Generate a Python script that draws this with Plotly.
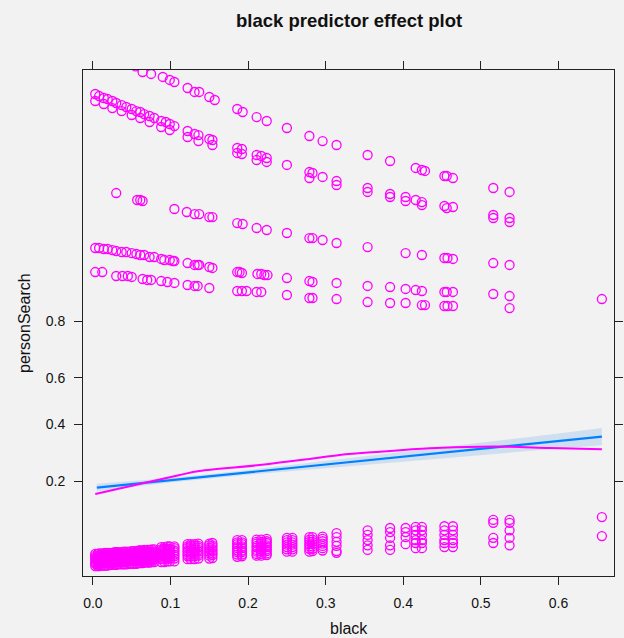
import numpy as np
import plotly.graph_objects as go

# ---------------- data (linear-predictor / logit scale) ----------------
title_text = "black predictor effect plot"
x_label = "black"
y_label = "personSearch"
x_ticks = [0.0, 0.1, 0.2, 0.3, 0.4, 0.5, 0.6]
y_tick_probs = [0.2, 0.4, 0.6, 0.8]

# fitted effect and confidence band
fit_x = [0.005, 0.1, 0.2, 0.3, 0.4, 0.5, 0.6, 0.656]
fit_y = [-1.500, -1.371, -1.236, -1.100, -0.965, -0.829, -0.694, -0.618]
fit_lo = [-1.565, -1.410, -1.276, -1.160, -1.045, -0.934, -0.824, -0.768]
fit_hi = [-1.435, -1.332, -1.196, -1.040, -0.885, -0.724, -0.564, -0.468]

# loess smooth of partial residuals
smooth_x = [0.003, 0.073, 0.112, 0.137, 0.215, 0.279, 0.318, 0.370, 0.434, 0.499, 0.537, 0.589, 0.656]
smooth_y = [-1.611, -1.398, -1.282, -1.212, -1.108, -1.004, -0.935, -0.878, -0.819, -0.791, -0.791, -0.814, -0.836]

# partial residuals, upper bands (searched)
bandA_x = [0.045, 0.055, 0.064, 0.075, 0.090, 0.099, 0.105, 0.122, 0.131, 0.137, 0.150, 0.157, 0.186, 0.193,
           0.211, 0.224, 0.250, 0.279, 0.296, 0.314, 0.354, 0.383, 0.416, 0.424, 0.428, 0.453, 0.456, 0.464,
           0.516, 0.537]
bandA_y = [5.88, 5.80, 5.702, 5.668, 5.616, 5.564, 5.529, 5.425, 5.356, 5.356, 5.269, 5.217, 5.061, 5.009,
           4.922, 4.853, 4.732, 4.593, 4.506, 4.437, 4.264, 4.160, 4.039, 4.004, 3.987, 3.900, 3.900, 3.865,
           3.692, 3.623]

bandB1_x = [0.003, 0.008, 0.014, 0.019, 0.025, 0.030, 0.037, 0.043, 0.050, 0.056, 0.061, 0.066, 0.073, 0.079,
            0.088, 0.094, 0.099, 0.105, 0.122, 0.131, 0.136, 0.150, 0.154, 0.186, 0.192, 0.211, 0.217, 0.224,
            0.250, 0.279, 0.283, 0.296, 0.314, 0.354, 0.383, 0.403, 0.416, 0.424, 0.453, 0.464, 0.516, 0.537]
bandB1_y = [5.321, 5.286, 5.252, 5.234, 5.200, 5.165, 5.130, 5.096, 5.061, 5.026, 5.009, 4.974, 4.940, 4.905,
            4.853, 4.836, 4.801, 4.766, 4.680, 4.628, 4.610, 4.541, 4.524, 4.385, 4.368, 4.264, 4.247, 4.212,
            4.091, 3.969, 3.952, 3.883, 3.813, 3.692, 3.588, 3.536, 3.484, 3.449, 3.380, 3.363, 3.224, 3.172]

bandB2_x = [0.003, 0.014, 0.025, 0.037, 0.050, 0.061, 0.073, 0.088, 0.099, 0.122, 0.136, 0.154, 0.186, 0.192,
            0.211, 0.224, 0.279, 0.314, 0.354, 0.383, 0.403, 0.424, 0.456, 0.516, 0.537]
bandB2_y = [5.200, 5.148, 5.078, 5.026, 4.957, 4.905, 4.836, 4.749, 4.697, 4.576, 4.506, 4.437, 4.299, 4.281,
            4.177, 4.143, 3.865, 3.744, 3.623, 3.536, 3.467, 3.397, 3.345, 3.172, 3.103]

bandC_x = [0.030, 0.057, 0.061, 0.064, 0.105, 0.121, 0.131, 0.137, 0.150, 0.154, 0.186, 0.193, 0.211, 0.224,
           0.250, 0.279, 0.283, 0.296, 0.314, 0.354, 0.403, 0.424, 0.453, 0.457, 0.464, 0.516, 0.537]
bandC_y = [3.605, 3.484, 3.484, 3.467, 3.328, 3.276, 3.241, 3.241, 3.189, 3.189, 3.085, 3.068, 2.999, 2.964,
           2.912, 2.825, 2.825, 2.791, 2.739, 2.669, 2.565, 2.531, 2.479, 2.479, 2.462, 2.392, 2.358]

bandD_x = [0.003, 0.008, 0.014, 0.019, 0.025, 0.030, 0.037, 0.043, 0.050, 0.056, 0.061, 0.066, 0.073, 0.079,
           0.088, 0.092, 0.099, 0.103, 0.105, 0.122, 0.131, 0.135, 0.137, 0.150, 0.154, 0.186, 0.189, 0.192,
           0.212, 0.217, 0.221, 0.225, 0.250, 0.279, 0.283, 0.314, 0.354, 0.383, 0.403, 0.416, 0.424, 0.453,
           0.456, 0.464, 0.516, 0.537]
bandD_y = [2.652, 2.652, 2.635, 2.635, 2.617, 2.600, 2.583, 2.583, 2.565, 2.548, 2.531, 2.531, 2.496, 2.496,
           2.462, 2.444, 2.444, 2.427, 2.427, 2.392, 2.358, 2.358, 2.358, 2.323, 2.306, 2.236, 2.236, 2.219,
           2.202, 2.202, 2.184, 2.184, 2.132, 2.080, 2.063, 2.046, 1.994, 1.976, 1.942, 1.924, 1.907, 1.890,
           1.890, 1.890, 1.855, 1.820]

bandE_x = [0.003, 0.012, 0.030, 0.038, 0.045, 0.050, 0.064, 0.070, 0.075, 0.088, 0.096, 0.105, 0.122, 0.131,
           0.135, 0.150, 0.186, 0.192, 0.198, 0.211, 0.217, 0.250, 0.279, 0.283, 0.314, 0.354, 0.383, 0.403,
           0.424, 0.428, 0.453, 0.457, 0.464, 0.537, 0.656]
bandE_y = [2.236, 2.236, 2.167, 2.167, 2.167, 2.150, 2.115, 2.098, 2.098, 2.080, 2.063, 2.046, 2.011, 1.994,
           1.994, 1.959, 1.907, 1.907, 1.907, 1.890, 1.890, 1.838, 1.786, 1.786, 1.768, 1.716, 1.699, 1.699,
           1.664, 1.664, 1.647, 1.647, 1.647, 1.612, 1.768]

# partial residuals, lower cluster (not searched), by neighbourhood
bottom_cols = [0.003, 0.006, 0.008, 0.011, 0.014, 0.016, 0.019, 0.022, 0.025, 0.028, 0.030, 0.033, 0.037,
               0.040, 0.043, 0.047, 0.050, 0.053, 0.056, 0.059, 0.061, 0.064, 0.066, 0.070, 0.073, 0.076,
               0.079, 0.088, 0.092, 0.096, 0.099, 0.105, 0.122, 0.126, 0.131, 0.136, 0.150, 0.154, 0.186,
               0.192, 0.211, 0.217, 0.224, 0.250, 0.257, 0.279, 0.283, 0.296, 0.314, 0.354, 0.383, 0.403,
               0.416, 0.424, 0.453, 0.464, 0.516, 0.537, 0.656]
bottom_vals = [
    [-2.65, -2.68, -2.72, -2.75, -2.79, -2.82, -2.86], [-2.65, -2.69, -2.72, -2.76, -2.79, -2.83, -2.86],
    [-2.64, -2.68, -2.71, -2.75, -2.78, -2.82, -2.86], [-2.64, -2.67, -2.71, -2.74, -2.78, -2.81, -2.85],
    [-2.64, -2.67, -2.70, -2.74, -2.78, -2.81, -2.85], [-2.63, -2.67, -2.70, -2.74, -2.77, -2.81, -2.85],
    [-2.63, -2.66, -2.70, -2.73, -2.77, -2.81, -2.85], [-2.63, -2.66, -2.70, -2.73, -2.77, -2.80, -2.84],
    [-2.63, -2.66, -2.69, -2.73, -2.77, -2.80, -2.84], [-2.62, -2.66, -2.69, -2.73, -2.76, -2.80, -2.84],
    [-2.62, -2.65, -2.69, -2.72, -2.76, -2.80, -2.84], [-2.62, -2.65, -2.69, -2.72, -2.76, -2.79, -2.83],
    [-2.62, -2.65, -2.69, -2.72, -2.76, -2.79, -2.83], [-2.61, -2.65, -2.68, -2.72, -2.75, -2.79, -2.83],
    [-2.61, -2.64, -2.68, -2.71, -2.75, -2.79, -2.83], [-2.61, -2.64, -2.68, -2.71, -2.75, -2.78, -2.82],
    [-2.60, -2.64, -2.67, -2.71, -2.75, -2.78, -2.82], [-2.60, -2.63, -2.67, -2.70, -2.74, -2.78, -2.82],
    [-2.60, -2.63, -2.67, -2.70, -2.74, -2.78, -2.82], [-2.59, -2.63, -2.66, -2.70, -2.74, -2.77, -2.81],
    [-2.59, -2.62, -2.66, -2.70, -2.73, -2.77, -2.81], [-2.59, -2.62, -2.66, -2.69, -2.73, -2.77, -2.81],
    [-2.58, -2.62, -2.65, -2.69, -2.72, -2.76, -2.80], [-2.58, -2.61, -2.65, -2.69, -2.72, -2.76, -2.80],
    [-2.58, -2.61, -2.65, -2.68, -2.72, -2.76, -2.80], [-2.57, -2.61, -2.64, -2.68, -2.72, -2.75, -2.79],
    [-2.57, -2.61, -2.64, -2.68, -2.71, -2.75, -2.79],
    [-2.53, -2.57, -2.60, -2.64, -2.67, -2.71, -2.74, -2.79], [-2.53, -2.56, -2.60, -2.63, -2.67, -2.70, -2.74, -2.79],
    [-2.52, -2.56, -2.59, -2.63, -2.66, -2.70, -2.73, -2.78], [-2.52, -2.56, -2.59, -2.63, -2.66, -2.70, -2.73, -2.78],
    [-2.52, -2.55, -2.59, -2.62, -2.66, -2.69, -2.73, -2.78],
    [-2.48, -2.52, -2.55, -2.59, -2.62, -2.66, -2.69, -2.74], [-2.48, -2.51, -2.55, -2.58, -2.62, -2.65, -2.69, -2.74],
    [-2.48, -2.51, -2.55, -2.58, -2.62, -2.65, -2.69, -2.74], [-2.47, -2.51, -2.54, -2.58, -2.61, -2.65, -2.68, -2.73],
    [-2.47, -2.50, -2.54, -2.57, -2.61, -2.64, -2.68, -2.73], [-2.46, -2.50, -2.53, -2.57, -2.60, -2.64, -2.67, -2.72],
    [-2.41, -2.45, -2.48, -2.52, -2.55, -2.59, -2.62, -2.66, -2.70], [-2.41, -2.45, -2.48, -2.52, -2.55, -2.59, -2.62, -2.66, -2.69],
    [-2.40, -2.44, -2.47, -2.51, -2.54, -2.58, -2.61, -2.65, -2.68], [-2.40, -2.44, -2.47, -2.51, -2.54, -2.58, -2.61, -2.65, -2.68],
    [-2.39, -2.43, -2.46, -2.50, -2.53, -2.57, -2.60, -2.64, -2.67],
    [-2.37, -2.41, -2.45, -2.49, -2.53, -2.57, -2.61], [-2.37, -2.41, -2.45, -2.49, -2.53, -2.57, -2.61],
    [-2.36, -2.40, -2.44, -2.48, -2.52, -2.56, -2.61], [-2.36, -2.40, -2.44, -2.48, -2.52, -2.56, -2.60],
    [-2.35, -2.39, -2.43, -2.47, -2.51, -2.55, -2.59],
    [-2.29, -2.36, -2.44, -2.51, -2.60, -2.63],
    [-2.24, -2.32, -2.41, -2.50, -2.58],
    [-2.20, -2.27, -2.37, -2.50, -2.58],
    [-2.20, -2.27, -2.36, -2.48],
    [-2.18, -2.24, -2.32, -2.41, -2.46, -2.55],
    [-2.18, -2.24, -2.32, -2.41, -2.46, -2.55],
    [-2.17, -2.24, -2.32, -2.41, -2.46, -2.53],
    [-2.17, -2.24, -2.32, -2.41, -2.46, -2.53],
    [-2.06, -2.11, -2.37, -2.46],
    [-2.06, -2.11, -2.24, -2.37, -2.50],
    [-2.01, -2.34],
]

# ---------------- assemble ----------------
bottom_x = [c for c, vals in zip(bottom_cols, bottom_vals) for _ in vals]
bottom_y = [v for vals in bottom_vals for v in vals]
pts_x = bandA_x + bandB1_x + bandB2_x + bandC_x + bandD_x + bandE_x + bottom_x
pts_y = bandA_y + bandB1_y + bandB2_y + bandC_y + bandD_y + bandE_y + bottom_y

y_tickvals = [float(np.log(p / (1 - p))) for p in y_tick_probs]
y_ticktext = [f"{p:.1f}" for p in y_tick_probs]

MAG = "#FF00FF"
BLUE = "#0080FF"
BG = "#F2F2F2"
FONT = "Liberation Sans, Arial, Helvetica, sans-serif"

fig = go.Figure()
fig.add_trace(go.Scatter(x=pts_x, y=pts_y, mode="markers",
                         marker=dict(symbol="circle-open", size=9, color=MAG, line=dict(width=1.3, color=MAG)),
                         hoverinfo="skip", showlegend=False))
fig.add_trace(go.Scatter(x=fit_x + fit_x[::-1], y=fit_hi + fit_lo[::-1], fill="toself",
                         fillcolor="rgba(0,110,230,0.14)", line=dict(width=0), mode="lines",
                         hoverinfo="skip", showlegend=False))
fig.add_trace(go.Scatter(x=fit_x, y=fit_y, mode="lines", line=dict(color=BLUE, width=2.2),
                         showlegend=False))
fig.add_trace(go.Scatter(x=smooth_x, y=smooth_y, mode="lines", line=dict(color=MAG, width=2, shape="spline"),
                         showlegend=False))

axis_common = dict(showgrid=False, zeroline=False, showline=True, linecolor="#222222", linewidth=1,
                   mirror="ticks", ticks="outside", ticklen=8, tickcolor="#222222", tickwidth=1,
                   automargin=False,
                   tickfont=dict(family=FONT, size=14, color="#111111"))

fig.update_xaxes(range=[-0.0128, 0.6716], tickvals=x_ticks, ticktext=[f"{t:.1f}" for t in x_ticks],
                 ticklabelstandoff=6, **axis_common)
fig.update_yaxes(range=[-3.032, 5.737], tickvals=y_tickvals, ticktext=y_ticktext,
                 ticklabelstandoff=6, **axis_common)

fig.update_layout(
    width=624, height=638,
    margin=dict(l=83, r=10, t=70, b=62),
    paper_bgcolor=BG, plot_bgcolor=BG,
    font=dict(family=FONT, color="#111111"),
    annotations=[
        dict(text=f"<b>{title_text}</b>", x=0.5, y=1, xref="paper", yref="paper", yshift=50,
             xanchor="center", yanchor="middle", showarrow=False, font=dict(size=18.5, family=FONT)),
        dict(text=x_label, x=0.5, y=0, xref="paper", yref="paper", yshift=-52,
             xanchor="center", yanchor="middle", showarrow=False, font=dict(size=16, family=FONT)),
        dict(text=y_label, x=0, y=0.5, xref="paper", yref="paper", xshift=-59, textangle=-90,
             xanchor="center", yanchor="middle", showarrow=False, font=dict(size=16, family=FONT)),
    ],
)

fig.write_html("out.html")
